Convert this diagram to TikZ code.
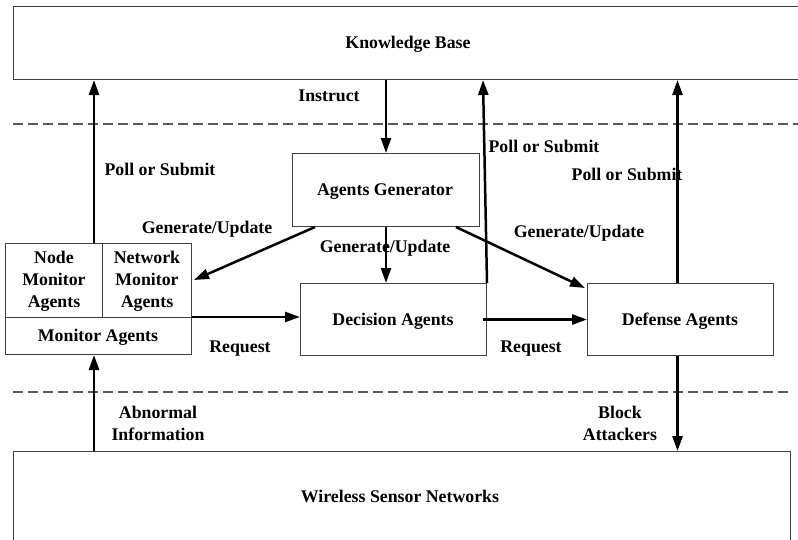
\documentclass[tikz,border=0pt]{standalone}
\usepackage{fontspec}
\setmainfont{Liberation Serif}
\usetikzlibrary{arrows.meta,calc}

\tikzset{
  box/.style={draw=black!75, line width=1pt, rectangle, inner sep=0pt},
  lbl/.style={font=\bfseries\fontsize{17.8}{22}\selectfont, align=center, inner sep=0pt, yshift=-1.5pt},
  arr/.style={line width=2.5pt, -{Triangle[length=15pt,width=10pt]}},
  sep/.style={draw=black!65, line width=1.3pt, dash pattern=on 10pt off 5pt},
}

\begin{document}
\begin{tikzpicture}[x=1pt,y=-1pt]
  \useasboundingbox (0,0) rectangle (798,539);
  \clip (0,0) rectangle (798,539);

  % layer separators
  \draw[sep] (13,124) -- (798,124);
  \draw[sep] (13,392) -- (790,392);

  % top and bottom layers (open beyond the page edge)
  \node[box, minimum width=830pt, minimum height=73pt, anchor=north west] (kb) at (13,6) {};
  \node[lbl] (kbtext) at (408,43) {Knowledge Base};
  \node[box, minimum width=777pt, minimum height=120pt, anchor=north west] (wsn) at (13,451) {};
  \node[lbl] (wsntext) at (400,495) {Wireless Sensor Networks};

  % agent boxes
  \node[box, minimum width=187pt, minimum height=73pt, anchor=north west] (ag) at (292,153) {};
  \node[lbl] (agtext) at (385,190) {Agents Generator};
  \node[box, minimum width=186pt, minimum height=72pt, anchor=north west] (dec) at (300,283) {};
  \node[lbl] (dectext) at (393,320) {Decision Agents};
  \node[box, minimum width=186pt, minimum height=72pt, anchor=north west] (def) at (587,283) {};
  \node[lbl] (deftext) at (680,320) {Defense Agents};

  % monitor agents, split into node / network parts
  \node[box, minimum width=186pt, minimum height=111pt, anchor=north west] (mon) at (5,243) {};
  \coordinate (monsplit) at ($(mon.north west)+(0,74)$);
  \draw[draw=black!75, line width=1pt] (monsplit) -- (monsplit -| mon.east);
  \draw[draw=black!75, line width=1pt] ($(mon.north west)+(97,0)$) -- ($(monsplit)+(97,0)$);
  \node[lbl] (nodemon) at (54,280) {Node\\Monitor\\Agents};
  \node[lbl] (netmon) at (147,280) {Network\\Monitor\\Agents};
  \node[lbl] (montext) at (98,336) {Monitor Agents};

  % connectors
  \coordinate (monup) at ($(mon.north west)+(89,0)$);
  \draw[arr] (monup) -- (monup |- kb.south);
  \draw[arr] (ag.north |- kb.south) -- (ag.north);
  \draw[arr] (ag.south) -- (ag.south |- dec.north);
  \draw[arr] (dec.north east) -- ($(dec.north east |- kb.south)+(-4,0)$);
  \coordinate (defup) at ($(def.north)+(-3,0)$);
  \draw[arr] (defup) -- (defup |- kb.south);
  \coordinate (defdown) at ($(def.south)+(-3,0)$);
  \draw[arr] (defdown) -- (defdown |- wsn.north);
  \coordinate (wsnup) at ($(mon.south west)+(89,0)$);
  \draw[arr] (wsnup |- wsn.north) -- (wsnup);
  \draw[arr] ($(ag.south west)+(23,0)$) -- ($(mon.north east)+(2,37)$);
  \draw[arr] ($(ag.south east)+(-24,0)$) -- ($(def.north west)+(-2,5)$);
  \draw[arr] ($(mon.north east)+(0,74)$) -- ($(dec.north west)+(0,34)$);
  \draw[arr] ($(dec.east)+(-4,0)$) -- (def.west);

  % connector labels
  \node[lbl] (linstruct) at (329,94) {Instruct};
  \node[lbl] (lpoll1) at (160,168) {Poll or Submit};
  \node[lbl] (lpoll2) at (544,145) {Poll or Submit};
  \node[lbl] (lpoll3) at (627,173) {Poll or Submit};
  \node[lbl] (lgen1) at (207,228) {Generate/Update};
  \node[lbl] (lgen2) at (385,247) {Generate/Update};
  \node[lbl] (lgen3) at (579,232) {Generate/Update};
  \node[lbl] (lreq1) at (240,347) {Request};
  \node[lbl] (lreq2) at (531,347) {Request};
  \node[lbl] (labn) at (158,422) {Abnormal\\Information};
  \node[lbl] (lblock) at (620,422) {Block\\Attackers};
\end{tikzpicture}
\end{document}
